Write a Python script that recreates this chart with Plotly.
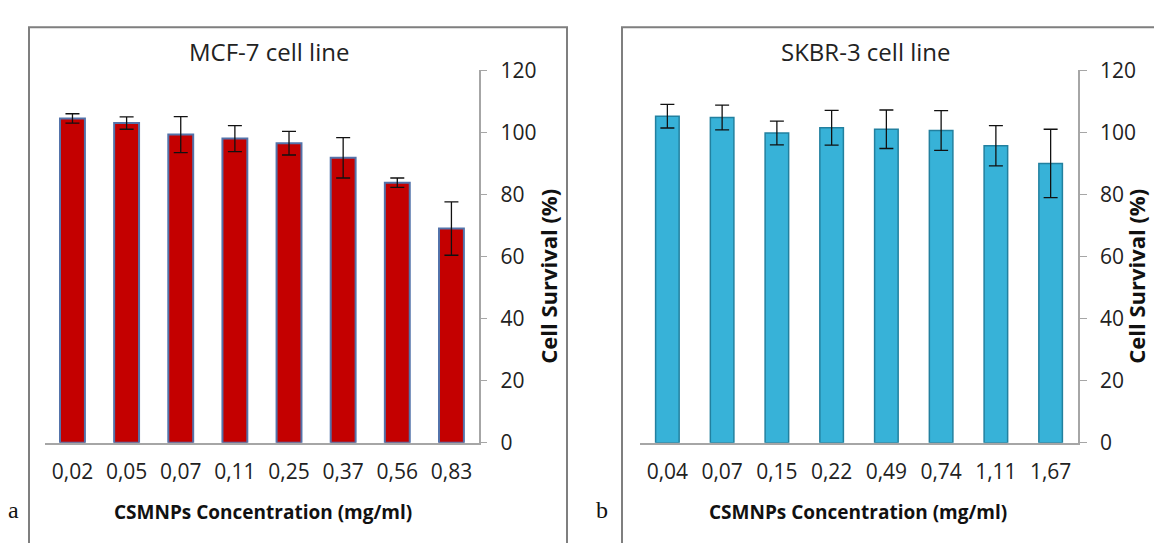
import plotly.graph_objects as go

# ---- data ----
mcf7_conc = ["0,02", "0,05", "0,07", "0,11", "0,25", "0,37", "0,56", "0,83"]
mcf7_survival = [104.5, 103.0, 99.3, 98.0, 96.5, 91.8, 83.8, 69.0]
mcf7_err = [1.5, 2.0, 5.8, 4.2, 3.8, 6.5, 1.5, 8.6]

skbr3_conc = ["0,04", "0,07", "0,15", "0,22", "0,49", "0,74", "1,11", "1,67"]
skbr3_survival = [105.2, 104.8, 99.8, 101.5, 101.0, 100.6, 95.7, 90.0]
skbr3_err = [3.8, 4.0, 3.8, 5.6, 6.2, 6.4, 6.5, 11.0]

y_ticks = [0, 20, 40, 60, 80, 100, 120]

W, H = 1154, 543
def px(x):
    return x / W
def py(y):
    return 1 - y / H

fig = go.Figure()

fig.add_trace(go.Bar(
    x=mcf7_conc, y=mcf7_survival, xaxis="x", yaxis="y",
    width=0.46,
    marker=dict(color="#C40000", line=dict(color="#5373AA", width=2)),
    error_y=dict(type="data", array=mcf7_err, visible=True,
                 color="#111111", thickness=1.3, width=7),
    showlegend=False,
))
fig.add_trace(go.Bar(
    x=skbr3_conc, y=skbr3_survival, xaxis="x2", yaxis="y2",
    width=0.43,
    marker=dict(color="#37B2D8", line=dict(color="#22809F", width=1.5)),
    error_y=dict(type="data", array=skbr3_err, visible=True,
                 color="#111111", thickness=1.3, width=7),
    showlegend=False,
))

tick_font = dict(family="Open Sans", size=21, color="#222222")
ydom = [py(451), py(58.3)]

xcommon = dict(showline=True, linecolor="#A6A6A6", linewidth=1.5,
               ticks="", showgrid=False, zeroline=False,
               tickfont=tick_font, range=[-0.5, 7.5], ticklabelstandoff=9)
ycommon = dict(side="right", range=[0, 120], tickvals=y_ticks,
               showline=True, linecolor="#A6A6A6", linewidth=1.5,
               ticks="outside", ticklen=7, tickcolor="#A6A6A6",
               showgrid=False, zeroline=False, tickfont=tick_font,
               ticklabelstandoff=9)

fig.update_layout(
    width=W, height=H,
    margin=dict(l=0, r=0, t=0, b=0),
    paper_bgcolor="white", plot_bgcolor="white",
    xaxis=dict(domain=[px(45.4), px(478.5)], anchor="y", **xcommon),
    yaxis=dict(domain=ydom, anchor="x", **ycommon),
    xaxis2=dict(domain=[px(640), px(1078)], anchor="y2", **xcommon),
    yaxis2=dict(domain=ydom, anchor="x2", **ycommon),
)

# panel borders
for x0, x1 in [(29, 567), (622, 1180)]:
    fig.add_shape(type="rect", xref="paper", yref="paper",
                  x0=px(x0), x1=px(x1), y0=py(560), y1=py(13),
                  line=dict(color="#7F7F7F", width=2), fillcolor="rgba(0,0,0,0)",
                  layer="below")

title_font = dict(family="Open Sans", size=24, color="#222222")
axt_font = dict(family="Open Sans", size=19, color="#111111")
ylab_font = dict(family="Open Sans", size=22, color="#111111")
tag_font = dict(family="Liberation Serif", size=24, color="#111111")

ann = [
    dict(text="MCF-7 cell line", x=px(269), y=py(38), font=title_font),
    dict(text="SKBR-3 cell line", x=px(866), y=py(38), font=title_font),
    dict(text="<b>CSMNPs Concentration (mg/ml)</b>", x=px(263), y=py(524), font=axt_font),
    dict(text="<b>CSMNPs Concentration (mg/ml)</b>", x=px(858), y=py(524), font=axt_font),
    dict(text="<b>Cell Survival (%)</b>", x=px(548), y=py(276), font=ylab_font, textangle=-90),
    dict(text="<b>Cell Survival (%)</b>", x=px(1136), y=py(276), font=ylab_font, textangle=-90),
    dict(text="a", x=px(13), y=py(522), font=tag_font),
    dict(text="b", x=px(602), y=py(522), font=tag_font),
]
for a in ann:
    fig.add_annotation(xref="paper", yref="paper", showarrow=False,
                       xanchor="center", yanchor="middle", **a)

fig.write_html("out.html", config={"displayModeBar": False},
               post_script="document.body.style.margin='0';document.body.style.overflow='hidden';")
